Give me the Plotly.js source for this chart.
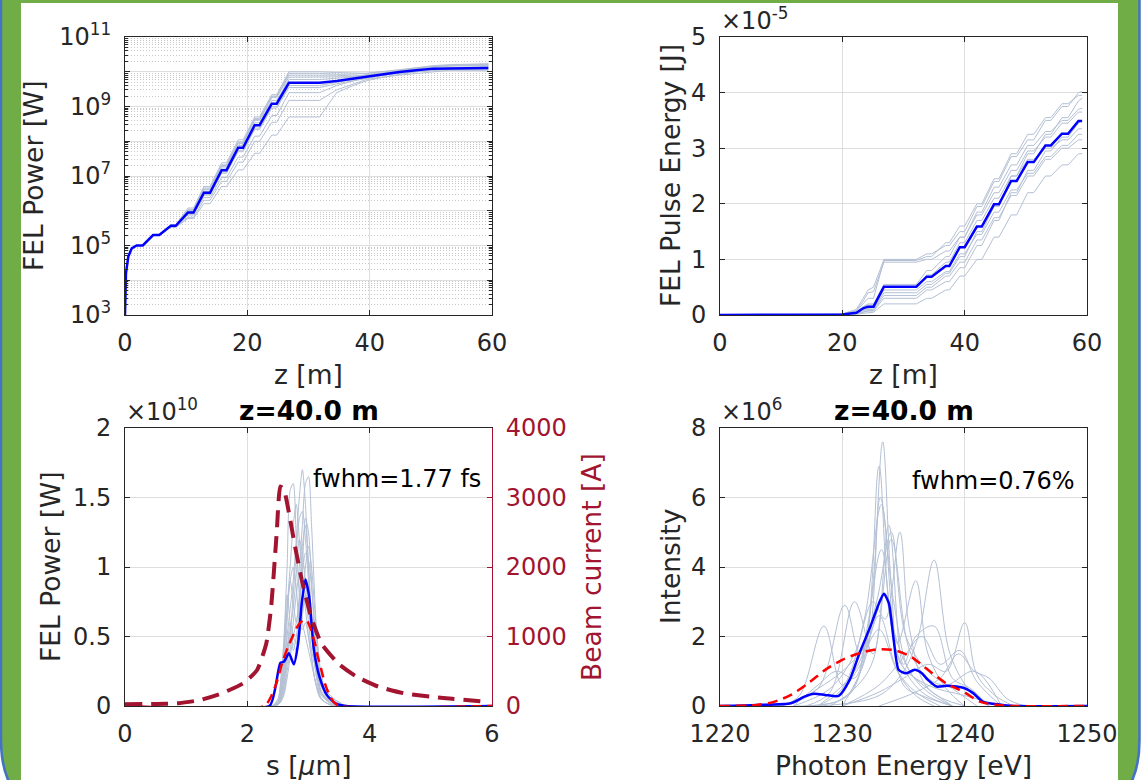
<!DOCTYPE html>
<html><head><meta charset="utf-8">
<script src="https://cdn.plot.ly/plotly-3.0.1.min.js"></script>
<style>html,body{margin:0;padding:0;background:#fff}</style>
</head><body>
<div id="chart" style="width:1142px;height:780px"></div>
<script>
// ---------- Panel 1: FEL power vs z (log) ----------
const zMean = [0, 0.16, 0.54, 1.1, 1.9, 2.9, 4.6, 5.6, 7.5, 8.3, 10.3, 11.2, 12.9, 13.9, 15.8, 16.6, 18.5, 19.3, 21.2, 22.0, 24.0, 24.8, 26.8, 31.8, 34.6, 37.3, 39.5, 42.2, 44.9, 47.6, 50.4, 53.1, 59.4];
const powerMean = [1e3, 1.6e4, 4.8e4, 8.3e4, 1e5, 1e5, 2e5, 2e5, 3.7e5, 3.7e5, 8.9e5, 8.9e5, 3.3e6, 3.3e6, 1.47e7, 1.47e7, 6.5e7, 6.5e7, 2.9e8, 2.9e8, 1.2e9, 1.2e9, 4.8e9, 4.8e9, 5.4e9, 6.3e9, 7.4e9, 8.5e9, 9.8e9, 1.1e10, 1.23e10, 1.25e10, 1.28e10];
const zShot = [7.5, 8.3, 10.3, 11.2, 12.9, 13.9, 15.8, 16.6, 18.5, 19.3, 21.2, 22.0, 24.0, 24.8, 26.8, 31.8, 34.6, 37.3, 39.5, 42.2, 44.9, 47.6, 50.4, 53.1, 59.4];
const powerShots = [
  [4e5,4e5,1.2e6,1.2e6,5e6,5e6,2.4e7,2.4e7,1.1e8,1.1e8,5e8,5e8,2.2e9,2.2e9,1e10,1e10,9.5e9,9e9,9e9,1e10,1.1e10,1.3e10,1.5e10,1.6e10,1.7e10],
  [3.8e5,3.8e5,1e6,1e6,4e6,4e6,1.9e7,1.9e7,8.5e7,8.5e7,4e8,4e8,1.8e9,1.8e9,8e9,8e9,8e9,7.5e9,8e9,9e9,1e10,1.2e10,1.4e10,1.5e10,1.6e10],
  [3.6e5,3.6e5,8e5,8e5,2.8e6,2.8e6,1.2e7,1.2e7,5e7,5e7,2.2e8,2.2e8,9e8,9e8,3.5e9,3.5e9,4.5e9,5.5e9,6.5e9,8e9,9.5e9,1.1e10,1.2e10,1.3e10,1.4e10],
  [3.4e5,3.4e5,6.5e5,6.5e5,2e6,2e6,7e6,7e6,2.5e7,2.5e7,1e8,1e8,3.5e8,3.5e8,1.5e9,1.5e9,3e9,4.5e9,6e9,7e9,8.5e9,1e10,1.1e10,1.2e10,1.2e10],
  [3.3e5,3.3e5,6e5,6e5,1.6e6,1.6e6,5e6,5e6,1.5e7,1.5e7,4.5e7,4.5e7,1.5e8,1.5e8,5e8,5e8,2.5e9,4e9,5.5e9,7e9,8e9,9e9,1e10,1.1e10,1.1e10],
  [3.9e5,3.9e5,1.1e6,1.1e6,4.5e6,4.5e6,2.1e7,2.1e7,9.5e7,9.5e7,4.5e8,4.5e8,2e9,2e9,9e9,9e9,8.5e9,8.5e9,9e9,1e10,1.15e10,1.3e10,1.45e10,1.55e10,1.65e10],
  [3.5e5,3.5e5,7.5e5,7.5e5,2.4e6,2.4e6,9e6,9e6,3.5e7,3.5e7,1.4e8,1.4e8,5.5e8,5.5e8,2.5e9,2.5e9,4e9,5.5e9,7e9,8.5e9,1e10,1.1e10,1.2e10,1.25e10,1.3e10],
  [3.7e5,3.7e5,9.5e5,9.5e5,3.6e6,3.6e6,1.7e7,1.7e7,7.5e7,7.5e7,3.4e8,3.4e8,1.5e9,1.5e9,6e9,6e9,6.5e9,7e9,8e9,9e9,1.05e10,1.2e10,1.35e10,1.45e10,1.5e10],
  [3.6e5,3.6e5,8.5e5,8.5e5,3e6,3e6,1.3e7,1.3e7,5.5e7,5.5e7,2.4e8,2.4e8,1e9,1e9,4e9,4e9,5e9,6e9,7e9,8e9,9e9,1e10,1.1e10,1.15e10,1.2e10],
  [3.8e5,3.8e5,1.05e6,1.05e6,4.2e6,4.2e6,2e7,2e7,9e7,9e7,4.2e8,4.2e8,1.9e9,1.9e9,7e9,7e9,7e9,7.2e9,8e9,9.2e9,1.1e10,1.25e10,1.4e10,1.5e10,1.55e10]
];
const powerTickVals = [1e3, 1e4, 1e5, 1e6, 1e7, 1e8, 1e9, 1e10, 1e11];
const powerTickText = ['10<sup>3</sup>', '', '10<sup>5</sup>', '', '10<sup>7</sup>', '', '10<sup>9</sup>', '', '10<sup>11</sup>'];

// ---------- Panel 2: pulse energy vs z (units of 1e-5 J) ----------
const zE = [0, 19, 20, 22.3, 23.4, 24.2, 25.1, 26.8, 32.1, 33.8, 34.6, 36.9, 37.5, 39.2, 40, 42, 42.8, 44.8, 45.6, 47.6, 48.5, 50.3, 51.3, 53.2, 54.1, 55.9, 56.9, 58.6, 59.2];
const energyMean = [0, 0.005, 0.01, 0.04, 0.12, 0.15, 0.15, 0.51, 0.51, 0.69, 0.69, 0.88, 0.88, 1.22, 1.22, 1.59, 1.59, 1.99, 1.99, 2.41, 2.41, 2.75, 2.75, 3.05, 3.05, 3.26, 3.26, 3.49, 3.49];
const energyShots = [
  [0,0.005,0.02,0.1,0.3,0.45,0.5,1.0,1.0,1.1,1.1,1.25,1.25,1.5,1.5,1.95,1.95,2.4,2.4,2.85,2.85,3.15,3.15,3.5,3.5,3.75,3.75,4.0,4.02],
  [0,0.005,0.015,0.08,0.25,0.4,0.42,0.95,0.95,1.0,1.0,1.15,1.15,1.4,1.4,1.8,1.8,2.2,2.2,2.6,2.6,2.95,2.95,3.2,3.2,3.45,3.45,3.65,3.65],
  [0,0.003,0.008,0.03,0.08,0.1,0.1,0.4,0.4,0.55,0.55,0.75,0.75,1.05,1.05,1.5,1.5,1.95,1.95,2.5,2.5,2.9,2.9,3.25,3.25,3.55,3.55,3.85,3.9],
  [0,0.002,0.005,0.02,0.05,0.07,0.07,0.3,0.3,0.45,0.45,0.6,0.6,0.85,0.85,1.25,1.25,1.7,1.7,2.2,2.2,2.6,2.6,2.95,2.95,3.2,3.2,3.45,3.5],
  [0,0.001,0.003,0.01,0.03,0.04,0.05,0.2,0.2,0.3,0.3,0.45,0.45,0.7,0.7,1.0,1.0,1.4,1.4,1.8,1.8,2.2,2.2,2.5,2.5,2.7,2.7,2.9,2.9],
  [0,0.004,0.01,0.05,0.15,0.2,0.2,0.55,0.55,0.8,0.8,1.05,1.05,1.4,1.4,1.85,1.85,2.3,2.3,2.7,2.7,3.05,3.05,3.3,3.3,3.5,3.5,3.7,3.72],
  [0,0.003,0.01,0.04,0.1,0.12,0.13,0.45,0.45,0.6,0.6,0.78,0.78,1.1,1.1,1.45,1.45,1.85,1.85,2.25,2.25,2.55,2.55,2.85,2.85,3.05,3.05,3.25,3.25],
  [0,0.004,0.012,0.05,0.14,0.18,0.18,0.5,0.5,0.72,0.72,0.95,0.95,1.3,1.3,1.7,1.7,2.1,2.1,2.5,2.5,2.8,2.8,3.0,3.0,3.15,3.15,3.35,3.35],
  [0,0.002,0.006,0.025,0.06,0.08,0.08,0.35,0.35,0.5,0.5,0.7,0.7,0.95,0.95,1.35,1.35,1.75,1.75,2.15,2.15,2.5,2.5,2.8,2.8,3.0,3.0,3.15,3.15],
  [0,0.005,0.015,0.07,0.2,0.3,0.3,0.98,0.98,1.05,1.05,1.3,1.3,1.6,1.6,2.0,2.0,2.45,2.45,2.9,2.9,3.25,3.25,3.55,3.55,3.8,3.8,3.95,3.95]
];

// ---------- Panel 3: power profile at z=40 m (units of 1e10 W) + beam current ----------
const sMean = [0, 2.36, 2.45, 2.54, 2.6, 2.68, 2.76, 2.83, 2.89, 2.95, 3.01, 3.09, 3.18, 3.3, 3.44, 3.62, 6];
const profMean = [0, 0, 0.115, 0.31, 0.32, 0.38, 0.3, 0.45, 0.74, 0.91, 0.79, 0.4, 0.21, 0.08, 0.02, 0, 0];
const sFit = [0, 2.28, 2.39, 2.48, 2.57, 2.66, 2.74, 2.83, 2.92, 2.98, 3.04, 3.1, 3.15, 3.21, 3.27, 3.34, 3.41, 3.5, 6];
const profFit = [0, 0, 0.07, 0.17, 0.31, 0.42, 0.5, 0.58, 0.62, 0.61, 0.55, 0.46, 0.36, 0.26, 0.16, 0.08, 0.03, 0, 0];
const sCur = [0, 0.5, 0.88, 1.23, 1.58, 1.93, 2.16, 2.31, 2.39, 2.48, 2.54, 2.6, 2.68, 2.77, 2.89, 3.04, 3.21, 3.5, 3.79, 4.14, 4.55, 5.25, 5.95];
const current = [24, 30, 40, 86, 182, 326, 518, 900, 1430, 2490, 3160, 3110, 2780, 2340, 1815, 1290, 900, 600, 420, 280, 185, 110, 60];
const sShot = [2.3, 2.4, 2.5, 2.55, 2.6, 2.65, 2.7, 2.75, 2.8, 2.85, 2.9, 2.95, 3.0, 3.05, 3.1, 3.15, 3.2, 3.3, 3.4, 3.5, 3.6];
const profShots = [
  [0,0,0.05,0.2,0.5,1.0,1.55,1.6,1.2,0.8,0.6,0.5,0.4,0.3,0.2,0.12,0.06,0.02,0,0,0],
  [0,0,0.02,0.1,0.3,0.5,0.7,0.9,1.2,1.5,1.7,1.45,1.0,0.6,0.35,0.2,0.1,0.04,0.01,0,0],
  [0,0,0.01,0.05,0.15,0.4,0.6,0.5,0.45,0.7,1.0,1.35,1.25,0.9,0.5,0.25,0.12,0.05,0.02,0,0],
  [0,0,0.03,0.15,0.4,0.8,0.6,0.4,0.5,0.7,0.9,0.8,0.6,0.4,0.3,0.2,0.15,0.1,0.06,0.02,0],
  [0,0,0.01,0.04,0.1,0.25,0.4,0.6,0.8,1.0,1.3,1.6,1.65,1.3,0.8,0.4,0.2,0.06,0.02,0,0],
  [0,0,0.02,0.08,0.2,0.35,0.5,0.45,0.4,0.5,0.65,0.8,0.75,0.55,0.35,0.2,0.1,0.05,0.03,0.02,0],
  [0,0,0.01,0.06,0.2,0.4,0.55,0.7,0.95,1.2,1.1,0.9,0.7,0.5,0.3,0.15,0.08,0.04,0.01,0,0],
  [0,0,0.02,0.1,0.3,0.45,0.35,0.3,0.35,0.5,0.75,1.0,1.15,1.0,0.7,0.45,0.25,0.08,0.05,0.03,0],
  [0,0,0.01,0.05,0.12,0.3,0.5,0.8,1.1,1.35,1.4,1.2,0.9,0.6,0.4,0.25,0.15,0.06,0.02,0,0],
  [0,0,0.04,0.2,0.45,0.7,0.9,1.0,0.85,0.6,0.55,0.6,0.5,0.35,0.2,0.12,0.06,0.02,0.01,0,0],
  [0,0,0.02,0.1,0.35,0.7,1.0,1.3,1.45,1.2,0.9,0.7,0.5,0.35,0.2,0.1,0.05,0.02,0,0,0],
  [0,0,0.01,0.03,0.08,0.2,0.35,0.5,0.6,0.75,0.95,1.1,1.05,0.85,0.6,0.35,0.18,0.07,0.03,0.01,0],
  [0,0,0.02,0.08,0.25,0.6,0.9,0.75,0.6,0.8,1.15,1.3,1.0,0.65,0.4,0.22,0.1,0.04,0.01,0,0]
];

// ---------- Panel 4: spectrum at z=40 m (units of 1e6) ----------
const eMean = [1220, 1223, 1225.8, 1226.9, 1227.7, 1228.6, 1229.7, 1230.6, 1231.4, 1232.3, 1233, 1233.4, 1233.8, 1234.2, 1234.6, 1235.2, 1235.9, 1236.5, 1237, 1237.7, 1238.5, 1239.3, 1240, 1240.7, 1241.5, 1242.7, 1244, 1250];
const specMean = [0, 0.03, 0.08, 0.27, 0.35, 0.32, 0.29, 0.75, 1.52, 2.29, 2.96, 3.23, 2.96, 1.9, 1.04, 0.94, 1.04, 0.94, 0.75, 0.56, 0.58, 0.56, 0.51, 0.37, 0.12, 0.05, 0, 0];
const eFit = [1220, 1223, 1224.4, 1225.8, 1227.2, 1228.6, 1230, 1231.4, 1232.8, 1234.2, 1235.6, 1237, 1238.5, 1239.9, 1241.3, 1242.7, 1244, 1250];
const specFit = [0, 0.03, 0.12, 0.32, 0.65, 1.04, 1.33, 1.52, 1.63, 1.61, 1.42, 1.04, 0.65, 0.41, 0.12, 0.03, 0, 0];
const specShotE = [
  [1226,1230,1231.5,1232.5,1233.3,1234,1235,1236.5,1239],
  [1227,1230.5,1232,1233,1234,1235.5,1237,1239],
  [1226,1229,1231,1232.5,1233.5,1234.7,1235.5,1237,1240],
  [1228,1233,1235,1236.2,1237.5,1238.8,1240.5,1242],
  [1225,1226.5,1228.5,1230,1231.5,1233,1234.5,1236,1237.5],
  [1228,1230,1231.8,1233.2,1234.5,1236,1237,1238.5,1240],
  [1230,1233,1235,1237,1238.5,1240,1241,1242.5,1244],
  [1227,1229,1231,1232.5,1234,1235.5,1237,1238.5,1240.8,1243],
  [1226,1228,1229.5,1231,1232,1233.2,1234.5,1236.5,1239],
  [1229,1231,1232.5,1233.8,1235,1236,1237.5,1239,1240.5,1242],
  [1224,1226,1228,1230,1232,1233.4,1234.8,1237,1240,1243],
  [1230,1233,1235,1236.5,1238,1239.6,1241,1243],
  [1228,1231,1232.8,1234,1235.2,1237,1239,1241],
  [1225,1228,1230.2,1231.5,1233,1234.5,1236,1238],
  [1230,1232,1233.1,1234.2,1235.5,1237,1239],
  [1233,1236,1238,1239.5,1240.8,1242,1243.5,1245]
];
const specShotI = [
  [0,0.2,1.0,3.5,7.6,3.5,0.6,0.3,0],
  [0,0.3,2.0,6.9,2.5,1.0,0.4,0],
  [0,0.5,1.5,3.0,2.5,5.0,2.2,0.5,0],
  [0,0.3,1.0,2.0,4.2,1.5,0.4,0],
  [0,0.3,2.3,0.6,1.2,2.6,1.0,0.3,0],
  [0,0.5,2.5,5.8,1.8,3.6,1.5,0.5,0],
  [0,0.4,0.8,1.2,1.0,2.4,0.9,0.3,0],
  [0,0.4,3.0,1.5,4.8,1.6,0.8,0.6,1.0,0],
  [0,0.6,1.0,0.8,2.2,4.5,1.5,0.4,0],
  [0,0.5,1.3,5.2,1.2,2.0,2.3,0.8,0.5,0],
  [0,0.1,0.5,1.0,1.8,3.2,1.2,0.6,0.3,0],
  [0,0.6,1.4,2.0,1.2,1.6,0.7,0],
  [0,1.0,3.0,5.0,2.0,1.0,0.5,0],
  [0,0.5,2.9,1.5,2.2,1.0,0.4,0],
  [0,1.5,6.0,3.0,1.0,0.5,0],
  [0,0.4,0.8,1.5,1.0,0.8,0.2,0]
];

// ---------- styling ----------
const W = 1142, H = 780;
const X = v => v / W, Y = v => 1 - v / H;
const FONT = 'DejaVu Sans';
const AX = '#262626', GRID = '#dedede', SHOT = 'rgb(180,192,212)', BLUE = '#0000ff', RED = '#ff0000', DRED = '#a2142f';

const traces = [];
powerShots.forEach(p => traces.push({x: zShot, y: p, xaxis: 'x', yaxis: 'y', mode: 'lines', line: {color: SHOT, width: 1}, hoverinfo: 'skip'}));
traces.push({x: zMean, y: powerMean, xaxis: 'x', yaxis: 'y', mode: 'lines', line: {color: BLUE, width: 2.5}});
energyShots.forEach(p => traces.push({x: zE, y: p, xaxis: 'x2', yaxis: 'y2', mode: 'lines', line: {color: SHOT, width: 1}, hoverinfo: 'skip'}));
traces.push({x: zE, y: energyMean, xaxis: 'x2', yaxis: 'y2', mode: 'lines', line: {color: BLUE, width: 2.5}});
profShots.forEach(p => traces.push({x: sShot, y: p, xaxis: 'x3', yaxis: 'y3', mode: 'lines', line: {color: SHOT, width: 1, shape: 'spline', smoothing: 0.8}, hoverinfo: 'skip'}));
traces.push({x: sMean, y: profMean, xaxis: 'x3', yaxis: 'y3', mode: 'lines', line: {color: BLUE, width: 2.5, shape: 'spline', smoothing: 0.6}});
traces.push({x: sFit, y: profFit, xaxis: 'x3', yaxis: 'y3', mode: 'lines', line: {color: RED, width: 2.5, dash: '10px,6px', shape: 'spline', smoothing: 0.6}});
traces.push({x: sCur, y: current, xaxis: 'x3', yaxis: 'y4', mode: 'lines', line: {color: DRED, width: 4, dash: '17px,9px', shape: 'spline', smoothing: 0.5}});
specShotE.forEach((e, i) => traces.push({x: e, y: specShotI[i], xaxis: 'x4', yaxis: 'y5', mode: 'lines', line: {color: SHOT, width: 1, shape: 'spline', smoothing: 1}, hoverinfo: 'skip'}));
traces.push({x: eMean, y: specMean, xaxis: 'x4', yaxis: 'y5', mode: 'lines', line: {color: BLUE, width: 2.5, shape: 'spline', smoothing: 0.6}});
traces.push({x: eFit, y: specFit, xaxis: 'x4', yaxis: 'y5', mode: 'lines', line: {color: RED, width: 2.5, dash: '10px,6px', shape: 'spline', smoothing: 0.8}});

const tickFont = {family: FONT, size: 24, color: AX};
function xa(domain, anchor, range, dtick) {
  return {domain, anchor, range, dtick, tick0: range[0], showgrid: true, gridcolor: GRID, gridwidth: 1,
    showline: true, linecolor: AX, linewidth: 1, mirror: 'ticks', ticks: 'inside', ticklen: 5, tickcolor: AX,
    zeroline: false, tickfont: tickFont, ticklabelstandoff: 6, fixedrange: true};
}
function ya(domain, anchor, range, dtick, mirror) {
  return {domain, anchor, range, dtick, tick0: 0, showgrid: true, gridcolor: GRID, gridwidth: 1,
    showline: true, linecolor: AX, linewidth: 1, mirror: mirror === undefined ? 'ticks' : mirror, ticks: 'inside', ticklen: 5, tickcolor: AX,
    zeroline: false, tickfont: tickFont, ticklabelstandoff: 8, fixedrange: true};
}
const dxL = [X(125), X(492)], dxR = [X(720), X(1087)];
const dyT = [Y(315), Y(37)], dyB = [Y(706), Y(428)];

const layout = {
  width: W, height: H, margin: {l: 0, r: 0, t: 0, b: 0},
  paper_bgcolor: '#ffffff', plot_bgcolor: 'rgba(0,0,0,0)', showlegend: false,
  font: {family: FONT, color: AX},
  xaxis: xa(dxL, 'y', [0, 60], 20),
  yaxis: Object.assign(ya(dyT, 'x', [3, 11], 1), {type: 'log', tickmode: 'array', tickvals: powerTickVals, ticktext: powerTickText,
    minor: {dtick: 'D1', ticks: 'inside', ticklen: 3, tickcolor: AX, showgrid: true, gridcolor: '#c8c8c8', griddash: '1px,2px', gridwidth: 1}}),
  xaxis2: xa(dxR, 'y2', [0, 60], 20),
  yaxis2: ya(dyT, 'x2', [0, 5], 1),
  xaxis3: xa(dxL, 'y3', [0, 6], 2),
  yaxis3: ya(dyB, 'x3', [0, 2], 0.5, false),
  yaxis4: {overlaying: 'y3', anchor: 'x3', side: 'right', range: [0, 4000], dtick: 1000, tick0: 0, showgrid: false, zeroline: false,
    showline: true, linecolor: DRED, linewidth: 1, ticks: 'inside', ticklen: 5, tickcolor: DRED,
    tickfont: {family: FONT, size: 24, color: DRED}, ticklabelstandoff: 8, fixedrange: true},
  xaxis4: xa(dxR, 'y5', [1220, 1250], 10),
  yaxis5: ya(dyB, 'x4', [0, 8], 2),
  shapes: [
    {type: 'path', xref: 'paper', yref: 'paper', layer: 'below', fillcolor: '#70ad47', line: {color: '#4472c4', width: 2.5},
     path: `M ${X(1)},${Y(-30)} L ${X(1)},${Y(740)} Q ${X(1)},${Y(818)} ${X(79)},${Y(818)} L ${X(1061)},${Y(818)} Q ${X(1139.5)},${Y(818)} ${X(1139.5)},${Y(740)} L ${X(1139.5)},${Y(-30)} Z`},
    {type: 'rect', xref: 'paper', yref: 'paper', layer: 'below', x0: X(21), x1: X(1118), y0: Y(820), y1: Y(3), fillcolor: '#ffffff', line: {width: 0}}
  ],
  annotations: []
};
const A = layout.annotations;
function ann(text, x, y, opts) {
  A.push(Object.assign({text, xref: 'paper', yref: 'paper', x: X(x), y: Y(y), showarrow: false,
    font: {family: FONT, size: 26.5, color: AX}, xanchor: 'center', yanchor: 'middle'}, opts || {}));
}
// axis titles
ann('FEL Power [W]', 34, 176, {textangle: -90});
ann('z [m]', 308.5, 374);
ann('FEL Pulse Energy [J]', 671, 176, {textangle: -90});
ann('z [m]', 903.5, 374);
ann('FEL Power [W]', 50, 567, {textangle: -90});
ann('s [<i>μ</i>m]', 308.5, 765);
ann('Beam current [A]', 591, 567, {textangle: -90, font: {family: FONT, size: 26.5, color: DRED}});
ann('Intensity', 670, 567, {textangle: -90});
ann('Photon Energy [eV]', 903.5, 765);
// exponent labels
ann('×10<sup>-5</sup>', 719, 37, {xanchor: 'left', yanchor: 'bottom', font: {family: FONT, size: 24, color: AX}});
ann('×10<sup>10</sup>', 124, 428, {xanchor: 'left', yanchor: 'bottom', font: {family: FONT, size: 24, color: AX}});
ann('×10<sup>6</sup>', 719, 428, {xanchor: 'left', yanchor: 'bottom', font: {family: FONT, size: 24, color: AX}});
// titles
ann('<b>z=40.0 m</b>', 308.5, 428, {yanchor: 'bottom', font: {family: FONT, size: 26.5, color: '#000'}});
ann('<b>z=40.0 m</b>', 903.5, 428, {yanchor: 'bottom', font: {family: FONT, size: 26.5, color: '#000'}});
// fwhm texts
ann('fwhm=1.77 fs', 483, 495, {xanchor: 'right', yanchor: 'bottom', font: {family: FONT, size: 24, color: '#000'}});
ann('fwhm=0.76%', 1077, 497, {xanchor: 'right', yanchor: 'bottom', font: {family: FONT, size: 24, color: '#000'}});

Plotly.newPlot('chart', traces, layout, {staticPlot: true, displayModeBar: false});
</script>
</body></html>
